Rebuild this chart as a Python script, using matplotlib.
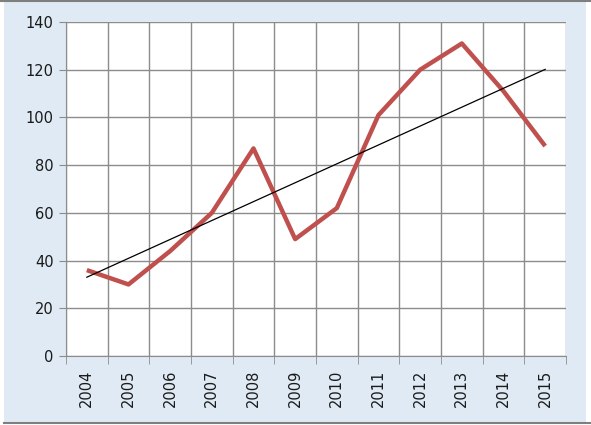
import numpy as np
import matplotlib.pyplot as plt
from matplotlib.patches import Rectangle
from matplotlib.lines import Line2D

years = ["2004", "2005", "2006", "2007", "2008", "2009",
         "2010", "2011", "2012", "2013", "2014", "2015"]
values = [36, 30, 44, 60, 87, 49, 62, 101, 120, 131, 111, 88]
y_ticks = [0, 20, 40, 60, 80, 100, 120, 140]

W, H = 591, 425
fig = plt.figure(figsize=(W / 100, H / 100), dpi=100, facecolor="white")

# light blue chart frame
fig.patches.append(Rectangle((4 / W, 2 / H), 582 / W, 421 / H, transform=fig.transFigure,
                             facecolor="#dfeaf4", edgecolor="none", zorder=-10))
fig.lines.append(Line2D([0, 1], [1 - 1 / H, 1 - 1 / H], transform=fig.transFigure,
                        color="#7f7f7f", lw=1.5, zorder=-5))
fig.lines.append(Line2D([4 / W, 1], [2 / H, 2 / H], transform=fig.transFigure,
                        color="#7f7f7f", lw=1.5, zorder=-5))

ax = fig.add_axes([66 / W, 1 - 356 / H, 500 / W, 334 / H])
ax.set_facecolor("white")

x = np.arange(len(years))
ax.plot(x, values, color="#c0504d", lw=3.2, solid_capstyle="butt", zorder=3)

# linear trend
k, b = np.polyfit(x, values, 1)
ax.plot(x, k * x + b, color="black", lw=0.9, zorder=4)

ax.set_xlim(-0.5, len(years) - 0.5)
ax.set_ylim(0, 140)

ax.set_yticks(y_ticks)
ax.set_yticklabels([str(v) for v in y_ticks])
ax.set_xticks(x)
ax.set_xticklabels(years, rotation=90)
ax.set_xticks(np.arange(-0.5, len(years)), minor=True)

ax.grid(True, axis="y", color="#8c8c8c", lw=1)
ax.grid(True, axis="x", which="minor", color="#8c8c8c", lw=1)
ax.set_axisbelow(True)

ax.tick_params(axis="x", which="major", length=0, pad=10, labelsize=10.5, colors="#1a1a1a")
ax.tick_params(axis="x", which="minor", length=6, color="#8c8c8c", direction="out")
ax.tick_params(axis="y", length=5, color="#8c8c8c", pad=4, labelsize=10.5, labelcolor="#1a1a1a")

for s in ["top", "right"]:
    ax.spines[s].set_visible(False)
ax.spines["left"].set_color("#8c8c8c")
ax.spines["bottom"].set_color("#8c8c8c")

fig.savefig("out.png", dpi=100, facecolor="white")
